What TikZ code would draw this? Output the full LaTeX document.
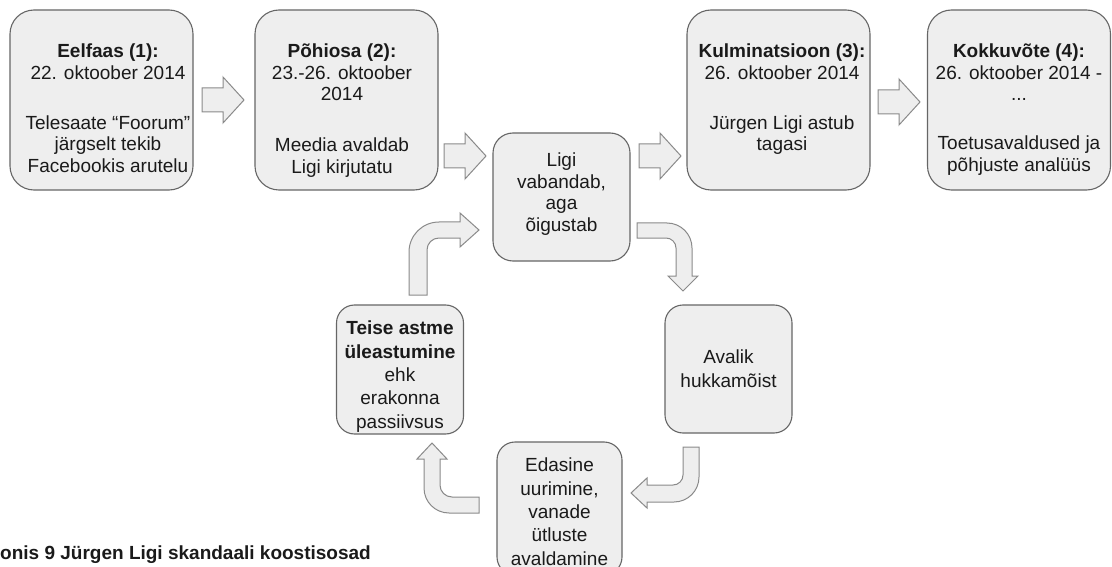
\documentclass[tikz,border=0pt]{standalone}
\usepackage{fontspec}
\setmainfont{Liberation Sans}
\definecolor{boxfill}{HTML}{EEEEEE}
\definecolor{boxline}{HTML}{666666}
\definecolor{arrline}{HTML}{8A8A8A}
\definecolor{txtcol}{HTML}{1A1A1A}
\begin{document}
\begin{tikzpicture}[x=1pt,y=-1pt,
  bigbox/.style={draw=boxline, fill=boxfill, line width=1.1pt, rounded corners=24pt, inner sep=0, minimum width=183pt, minimum height=180pt},
  smallbox/.style={draw=boxline, fill=boxfill, line width=1.1pt, rounded corners=18pt, inner sep=0, minimum width=127pt},
  toptxt/.style={anchor=north, inner sep=0, align=center, text=txtcol, font=\fontsize{19}{21.5}\selectfont},
  lowtxt/.style={anchor=north, inner sep=0, align=center, text=txtcol, font=\fontsize{19}{23.3}\selectfont},
  barrow/.style={fill=boxfill, draw=arrline, line width=1pt, line join=miter},
  rarr/.pic={\draw[barrow] (0,-12) -- (21,-12) -- (21,-23) -- (42,0) -- (21,23) -- (21,12) -- (0,12) -- cycle;}
]
\useasboundingbox (0,0) rectangle (1112,567);
\clip (0,0) rectangle (1112,567);

% top row boxes
\node[bigbox] (b1) at (101.5,100) {};
\node[bigbox] (b2) at (346.5,100) {};
\node[bigbox] (b3) at (778.5,100) {};
\node[bigbox] (b4) at (1019,100) {};
\node[toptxt] (t1) at (108,44) {\textbf{Eelfaas (1):}\\22. oktoober 2014\\[28.5pt]Telesaate “Foorum”\\järgselt tekib\\Facebookis arutelu};
\node[toptxt] (t2) at (342,44) {\textbf{Põhiosa (2):}\\23.-26. oktoober\\2014\\[29.5pt]Meedia avaldab\\Ligi kirjutatu};
\node[toptxt] (t3) at (782,44) {\textbf{Kulminatsioon (3):}\\26. oktoober 2014\\[28.5pt]Jürgen Ligi astub\\tagasi};
\node[toptxt] (t4) at (1019,44) {\textbf{Kokkuvõte (4):}\\26. oktoober 2014 -\\...\\[27.5pt]Toetusavaldused ja\\põhjuste analüüs};

% cycle boxes
\node[smallbox, minimum width=137pt, minimum height=128pt, rounded corners=20pt] (c) at (561.5,197) {};
\node[toptxt] (tc) at (561.5,153) {Ligi\\vabandab,\\aga\\õigustab};
\node[smallbox, minimum height=129pt] (te) at (400,369.5) {};
\node[lowtxt] (tte) at (400,321) {\textbf{Teise astme}\\\textbf{üleastumine}\\ehk\\erakonna\\passiivsus};
\node[smallbox, minimum height=128pt] (av) at (728.5,369) {};
\node[lowtxt] (tav) at (728.5,350) {Avalik\\hukkamõist};
\node[smallbox, minimum width=125pt, minimum height=133pt] (ed) at (559.5,508.5) {};
\node[lowtxt] (ted) at (559.5,458) {Edasine\\uurimine,\\vanade\\ütluste\\avaldamine};

% straight block arrows
\pic at (202,100) {rarr};
\pic at (444,156) {rarr};
\pic at (639,156) {rarr};
\pic at (878,102) {rarr};

% bent block arrows
\draw[barrow] (409,295) -- (409,252) to[out=90,in=180] (439,222) -- (460,222) -- (460,213) -- (479,230) -- (460,247) -- (460,238) -- (439,238) to[out=180,in=90] (427,250) -- (427,295) -- cycle;
\draw[barrow] (637,223) -- (667,223) to[out=0,in=90] (692,248) -- (692,276) -- (698,276) -- (683,291) -- (668,276) -- (676,276) -- (676,248) to[out=90,in=0] (666,238) -- (637,238) -- cycle;
\draw[barrow] (683,447) -- (699,447) -- (699,477) to[out=270,in=0] (674,502) -- (647,502) -- (647,508) -- (631,493) -- (647,478) -- (647,485) -- (673,485) to[out=0,in=270] (683,475) -- cycle;
\draw[barrow] (479,497) -- (452,497) to[out=180,in=270] (440,485) -- (440,459) -- (447,459) -- (432,443) -- (417,459) -- (424,459) -- (424,488) to[out=270,in=180] (449,513) -- (479,513) -- cycle;

% caption
\node[anchor=base west, inner sep=0, text=txtcol, font=\fontsize{19}{21}\selectfont\bfseries] (cap) at (0,559) {onis 9 Jürgen Ligi skandaali koostisosad};
\end{tikzpicture}
\end{document}
